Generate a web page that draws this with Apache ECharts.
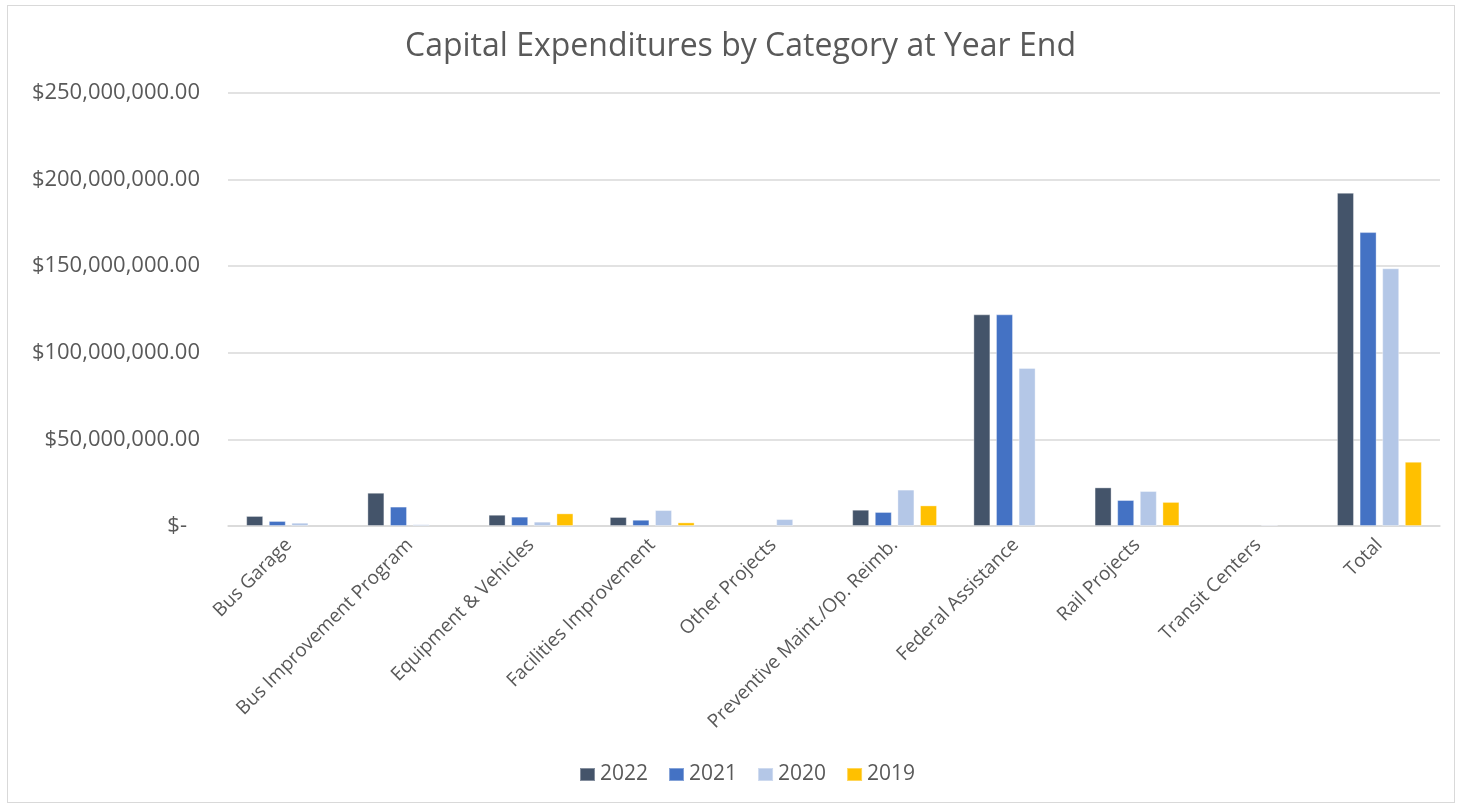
<!DOCTYPE html>
<html>
<head>
<meta charset="utf-8">
<script src="https://cdn.jsdelivr.net/npm/echarts@6/dist/echarts.min.js"></script>
<style>
html,body{margin:0;padding:0;background:#fff;}
#frame{position:absolute;left:7px;top:5px;width:1448px;height:798px;border:1px solid #d9d9d9;box-sizing:border-box;}
#chart{position:absolute;left:0;top:0;width:1459px;height:808px;}
</style>
</head>
<body>
<div id="frame"></div>
<div id="chart"></div>
<script>
const categories = ["Bus Garage","Bus Improvement Program","Equipment & Vehicles","Facilities Improvement","Other Projects","Preventive Maint./Op. Reimb.","Federal Assistance","Rail Projects","Transit Centers","Total"];
const seriesNames = ["2022","2021","2020","2019"];
const values2022 = [5800000,19200000,6500000,5200000,null,9400000,122200000,22300000,null,192400000];
const values2021 = [2900000,11200000,5400000,3600000,null,8100000,122200000,15000000,null,169700000];
const values2020 = [1900000,1000000,2500000,9200000,4000000,21000000,91200000,20200000,700000,148800000];
const values2019 = [null,null,7300000,2100000,null,11900000,null,13900000,null,37100000];
const colors = ["#44546A","#4472C4","#B4C7E7","#FFC000"];
const allValues = [values2022,values2021,values2020,values2019];

const font = "'Open Sans', 'Liberation Sans', sans-serif";
const chart = echarts.init(document.getElementById('chart'));
chart.setOption({
  animation:false,
  title:{text:"Capital Expenditures by Category at Year End",left:400,top:26,
    textStyle:{fontFamily:font,fontSize:32,fontWeight:'normal',color:'#595959'}},
  legend:{bottom:18,left:574,itemWidth:15,itemHeight:13,itemGap:20,icon:'rect',
    textStyle:{fontFamily:font,fontSize:21,color:'#595959'},data:seriesNames},
  grid:{left:228,right:19,top:93,bottom:282,containLabel:false},
  xAxis:{type:'category',data:categories,
    axisLine:{lineStyle:{color:'#d9d9d9',width:1.5}},axisTick:{show:false},
    axisLabel:{rotate:45,interval:0,fontFamily:font,fontSize:19,color:'#595959',margin:16}},
  yAxis:{type:'value',min:0,max:250000000,interval:50000000,
    splitLine:{lineStyle:{color:'#d9d9d9',width:1.5}},axisLine:{show:false},axisTick:{show:false},
    axisLabel:{fontFamily:font,fontSize:22,color:'#595959',margin:28,
      formatter:function(v){ if(v===0) return '{z|$-}'; return '$'+v.toLocaleString('en-US',{minimumFractionDigits:2,maximumFractionDigits:2}); },
      rich:{z:{fontFamily:font,fontSize:22,color:'#595959',padding:[0,13,0,0]}}}},
  series: seriesNames.map((n,i)=>({
    name:n,type:'bar',data:allValues[i],barGap:'33%',barCategoryGap:'30%',
    itemStyle:{color:colors[i],borderColor:'rgba(255,255,255,0.35)',borderWidth:1}
  }))
});
</script>
</body>
</html>
